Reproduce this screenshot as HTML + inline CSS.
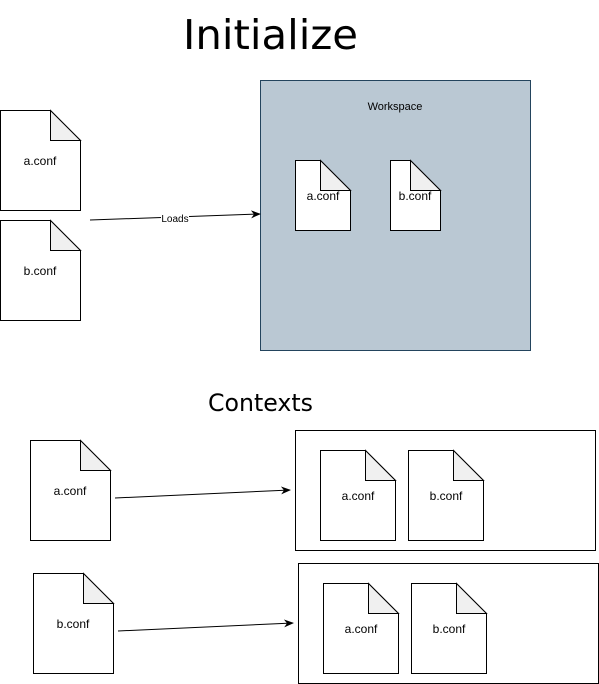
<!DOCTYPE html>
<html><head><style>html,body{margin:0;padding:0;background:#fff;}svg{display:block}</style></head>
<body>
<svg width="599" height="684" viewBox="0 0 599 684" xmlns="http://www.w3.org/2000/svg" font-family="Liberation Sans, sans-serif">
<defs>
<marker id="ar" markerWidth="10" markerHeight="8" refX="9" refY="4" orient="auto" markerUnits="userSpaceOnUse">
<path d="M0,0 L10,4 L0,8 L3,4 Z" fill="#000"/></marker>
</defs>
<text x="183" y="49" font-size="41" font-family="'Comic Sans MS', 'DejaVu Sans', sans-serif" textLength="175" lengthAdjust="spacingAndGlyphs">Initialize</text>
<text x="208" y="411" font-size="24" font-family="'Comic Sans MS', 'DejaVu Sans', sans-serif" textLength="105" lengthAdjust="spacingAndGlyphs">Contexts</text>

<rect x="260.5" y="80.5" width="270" height="270" fill="#bac8d3" stroke="#23445d"/>
<text x="395" y="110" font-size="11" text-anchor="middle">Workspace</text>

<g stroke="#000" stroke-width="1">
<!-- doc helper: body then fold -->
<path d="M0.5,110.5 H50.5 L80.5,140.5 V210.5 H0.5 Z" fill="#fff"/><path d="M50.5,110.5 V140.5 H80.5 Z" fill="#f0f0f0"/>
<path d="M0.5,220.5 H50.5 L80.5,250.5 V320.5 H0.5 Z" fill="#fff"/><path d="M50.5,220.5 V250.5 H80.5 Z" fill="#f0f0f0"/>
<path d="M295.5,160.5 H320.5 L350.5,190.5 V230.5 H295.5 Z" fill="#fff"/><path d="M320.5,160.5 V190.5 H350.5 Z" fill="#f0f0f0"/>
<path d="M390.5,160.5 H410.5 L440.5,190.5 V230.5 H390.5 Z" fill="#fff"/><path d="M410.5,160.5 V190.5 H440.5 Z" fill="#f0f0f0"/>

<path d="M30.5,440.5 H80.5 L110.5,470.5 V540.5 H30.5 Z" fill="#fff"/><path d="M80.5,440.5 V470.5 H110.5 Z" fill="#f0f0f0"/>
<path d="M33.5,573.5 H83.5 L113.5,603.5 V673.5 H33.5 Z" fill="#fff"/><path d="M83.5,573.5 V603.5 H113.5 Z" fill="#f0f0f0"/>

<rect x="295.5" y="430.5" width="300" height="120" fill="#fff"/>
<rect x="298.5" y="563.5" width="300" height="120" fill="#fff"/>

<path d="M320.5,450.5 H365.5 L395.5,480.5 V540.5 H320.5 Z" fill="#fff"/><path d="M365.5,450.5 V480.5 H395.5 Z" fill="#f0f0f0"/>
<path d="M408.5,450.5 H453.5 L483.5,480.5 V540.5 H408.5 Z" fill="#fff"/><path d="M453.5,450.5 V480.5 H483.5 Z" fill="#f0f0f0"/>
<path d="M323.5,583.5 H368.5 L398.5,613.5 V673.5 H323.5 Z" fill="#fff"/><path d="M368.5,583.5 V613.5 H398.5 Z" fill="#f0f0f0"/>
<path d="M411.5,583.5 H456.5 L486.5,613.5 V673.5 H411.5 Z" fill="#fff"/><path d="M456.5,583.5 V613.5 H486.5 Z" fill="#f0f0f0"/>

<line x1="90" y1="220" x2="260" y2="214" marker-end="url(#ar)"/>
<line x1="115" y1="498" x2="290" y2="490" marker-end="url(#ar)"/>
<line x1="118" y1="631" x2="293" y2="623" marker-end="url(#ar)"/>
</g>
<rect x="161" y="212" width="28" height="12" fill="#fff"/>
<text x="175" y="222" font-size="10" text-anchor="middle">Loads</text>

<g font-size="12" text-anchor="middle">
<text x="40" y="165">a.conf</text>
<text x="40" y="275">b.conf</text>
<text x="323" y="200">a.conf</text>
<text x="415" y="200">b.conf</text>
<text x="70" y="495">a.conf</text>
<text x="73" y="628">b.conf</text>
<text x="358" y="500">a.conf</text>
<text x="446" y="500">b.conf</text>
<text x="361" y="633">a.conf</text>
<text x="449" y="633">b.conf</text>
</g>
</svg>
</body></html>
